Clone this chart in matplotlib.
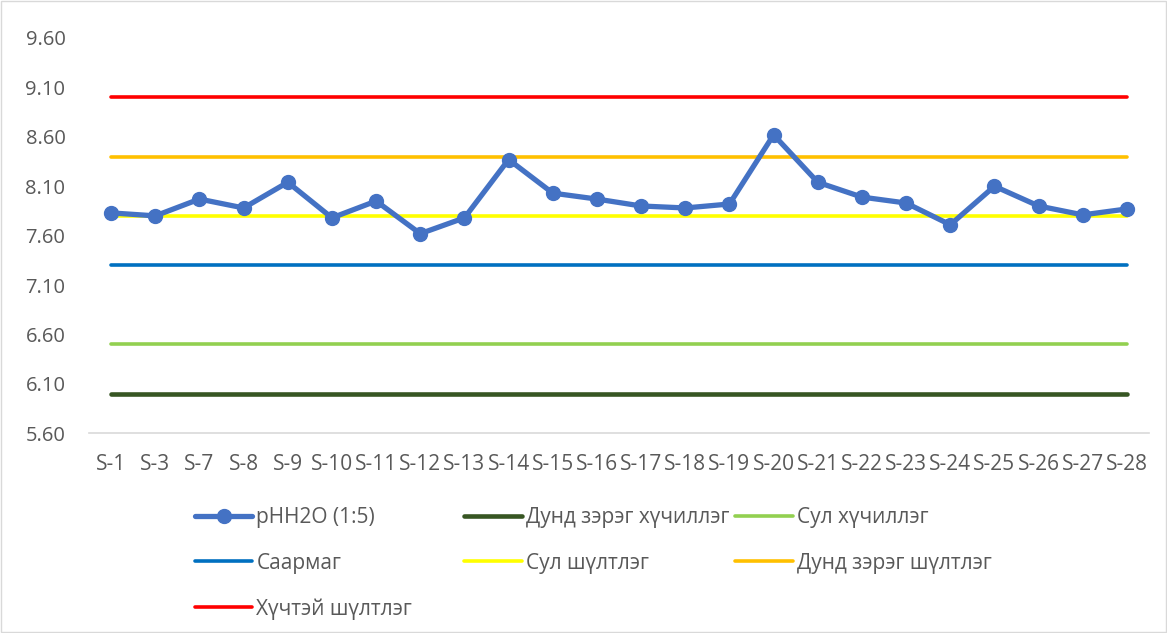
# pH chart with reference class lines
import matplotlib
matplotlib.use('Agg')
import matplotlib.pyplot as plt

plt.rcParams['font.family'] = ['Open Sans', 'DejaVu Sans']

# data
samples = ['S-1', 'S-3', 'S-7', 'S-8', 'S-9', 'S-10', 'S-11', 'S-12', 'S-13', 'S-14',
           'S-15', 'S-16', 'S-17', 'S-18', 'S-19', 'S-20', 'S-21', 'S-22', 'S-23',
           'S-24', 'S-25', 'S-26', 'S-27', 'S-28']
ph_values = [7.83, 7.80, 7.97, 7.88, 8.14, 7.78, 7.95, 7.62, 7.78, 8.37,
             8.03, 7.97, 7.90, 7.88, 7.92, 8.62, 8.14, 7.99, 7.93,
             7.71, 8.10, 7.90, 7.81, 7.87]

ref_names = ['Дунд зэрэг хүчиллэг', 'Сул хүчиллэг', 'Саармаг', 'Сул шүлтлэг',
             'Дунд зэрэг шүлтлэг', 'Хүчтэй шүлтлэг']
ref_levels = [6.0, 6.5, 7.3, 7.8, 8.4, 9.0]
ref_colors = ['#375623', '#92D050', '#0070C0', '#FFFF00', '#FFC000', '#FF0000']

yticks = [5.60, 6.10, 6.60, 7.10, 7.60, 8.10, 8.60, 9.10, 9.60]

txt = '#595959'

fig = plt.figure(figsize=(11.67, 6.33), dpi=100)
ax = fig.add_axes([0.0763, 0.3155, 0.9083, 0.6245])

x = list(range(len(samples)))
handles = {}
for name, lev, col in zip(ref_names, ref_levels, ref_colors):
    h, = ax.plot(x, [lev] * len(x), color=col, lw=2.6 if col != '#375623' else 3.3,
                 solid_capstyle='round', zorder=2)
    handles[name] = h

ph_line, = ax.plot(x, ph_values, color='#4472C4', lw=3.8, marker='o', markersize=10,
                   solid_capstyle='round', zorder=3)

ax.set_xlim(-0.5, len(samples) - 0.5)
ax.set_ylim(5.60, 9.60)
ax.set_yticks(yticks)
ax.set_yticklabels(['%.2f' % v for v in yticks])
ax.set_xticks(x)
ax.set_xticklabels(samples)
ax.tick_params(axis='both', length=0, colors=txt)
ax.tick_params(axis='y', pad=17, labelsize=14.5)
ax.tick_params(axis='x', pad=15, labelsize=15)
for s in ['top', 'right', 'left']:
    ax.spines[s].set_visible(False)
ax.spines['bottom'].set_color('#D9D9D9')
ax.spines['bottom'].set_linewidth(1.2)

# legend laid out row by row like the original, one legend per column
cols = [
    [('pHH2O (1:5)', ph_line), ('Саармаг', handles['Саармаг']), ('Хүчтэй шүлтлэг', handles['Хүчтэй шүлтлэг'])],
    [('Дунд зэрэг хүчиллэг', handles['Дунд зэрэг хүчиллэг']), ('Сул шүлтлэг', handles['Сул шүлтлэг'])],
    [('Сул хүчиллэг', handles['Сул хүчиллэг']), ('Дунд зэрэг шүлтлэг', handles['Дунд зэрэг шүлтлэг'])],
]
col_x = [0.167, 0.398, 0.630]
for cx, items in zip(col_x, cols):
    leg = fig.legend([h for _, h in items], [n for n, _ in items],
                     loc='upper left', bbox_to_anchor=(cx, 0.199), frameon=False,
                     fontsize=15, handlelength=2.75, handletextpad=0.2,
                     labelspacing=1.18, borderpad=0, borderaxespad=0, labelcolor=txt)

# chart border
fig.patches.append(plt.Rectangle((0.001, 0.001), 0.998, 0.998, transform=fig.transFigure,
                                 fill=False, edgecolor='#D9D9D9', lw=1))

fig.savefig('out.png', dpi=100)
